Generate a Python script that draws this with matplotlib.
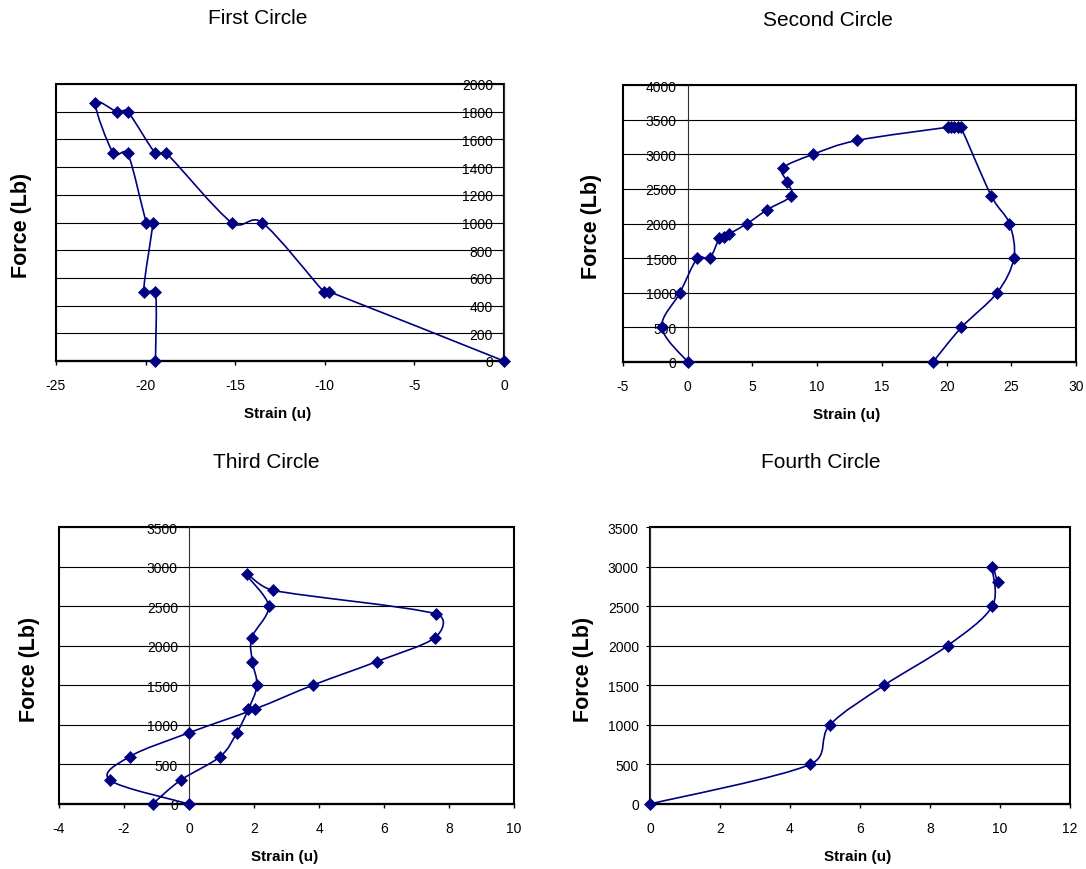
import numpy as np
import matplotlib
matplotlib.use("Agg")
import matplotlib.pyplot as plt
from matplotlib.path import Path
from matplotlib.patches import PathPatch, Rectangle

plt.rcParams["font.family"] = ["Liberation Sans", "DejaVu Sans"]
plt.rcParams["axes.unicode_minus"] = False

# ----------------------------
# Data (strain in u, force in Lb)
# ----------------------------
first_strain = [-19.45, -19.45, -20.1, -19.6, -19.95, -21.0, -21.8, -22.8, -21.6,
                -21.0, -19.45, -18.85, -15.2, -13.5, -10.05, -9.75, 0.0]
first_force = [0, 500, 500, 1000, 1000, 1500, 1500, 1860, 1800,
               1800, 1500, 1500, 1000, 1000, 500, 500, 0]

second_strain = [0.0, -2.0, -0.6, 0.75, 1.7, 2.45, 2.8, 3.2, 4.6, 6.15, 8.0, 7.7, 7.35,
                 9.7, 13.1, 20.1, 20.35, 20.6, 20.85, 21.1, 23.45, 24.85, 25.2, 23.9,
                 21.15, 18.95]
second_force = [0, 500, 1000, 1500, 1500, 1790, 1800, 1850, 2000, 2200, 2400, 2600, 2800,
                3000, 3200, 3390, 3390, 3390, 3390, 3390, 2400, 2000, 1500, 1000,
                500, 0]

third_strain = [-1.12, -0.26, 0.96, 1.47, 1.83, 2.09, 1.95, 1.93, 2.45, 1.78, 2.59,
                7.61, 7.56, 5.78, 3.80, 2.03, 0.0, -1.82, -2.43, 0.0]
third_force = [0, 300, 600, 900, 1200, 1500, 1800, 2100, 2500, 2900, 2700,
               2400, 2100, 1800, 1500, 1200, 900, 600, 300, 0]

fourth_strain = [0.0, 4.57, 5.14, 6.69, 8.50, 9.78, 9.77, 9.93]
fourth_force = [0, 500, 1000, 1500, 2000, 2500, 3000, 2800]

titles = ["First Circle", "Second Circle", "Third Circle", "Fourth Circle"]

NAVY = "#000080"
W, H = 1086, 870


def px_rect(x0, y0, x1, y1):
    return [x0 / W, 1 - y1 / H, (x1 - x0) / W, (y1 - y0) / H]


def smooth_path(xs, ys, sx, sy):
    # Excel-style smoothed line: Bezier segments, control arms capped at
    # half the segment length (worked out in pixel space, then scaled back)
    pts = np.column_stack([xs, ys]).astype(float) * [sx, sy]
    n = len(pts)
    verts = [pts[0]]
    codes = [Path.MOVETO]
    for i in range(n - 1):
        p0 = pts[max(i - 1, 0)]
        p1 = pts[i]
        p2 = pts[i + 1]
        p3 = pts[min(i + 2, n - 1)]
        d12 = np.hypot(*(p2 - p1))
        d02 = np.hypot(*(p2 - p0))
        d13 = np.hypot(*(p3 - p1))
        f1 = 1 / 6 if d02 / 6 < d12 / 2 else (d12 / 2 / d02 if d02 > 0 else 0)
        f2 = 1 / 6 if d13 / 6 < d12 / 2 else (d12 / 2 / d13 if d13 > 0 else 0)
        verts += [p1 + (p2 - p0) * f1, p2 - (p3 - p1) * f2, p2]
        codes += [Path.CURVE4] * 3
    verts = np.array(verts) / [sx, sy]
    return Path(verts, codes)


def draw_panel(rect, xs, ys, xlim, xstep, ylim, ystep):
    ax = fig.add_axes(px_rect(*rect))
    ax.set_xlim(xlim)
    ax.set_ylim(ylim)
    ax.set_xticks(np.arange(xlim[0], xlim[1] + xstep / 2, xstep))
    ax.set_yticks(np.arange(ylim[0], ylim[1] + ystep / 2, ystep))
    ax.yaxis.grid(True, color="black", linewidth=0.8)
    ax.set_axisbelow(True)

    ax.spines["left"].set_position(("data", 0))
    ax.spines["left"].set_linewidth(0.8)
    ax.spines["left"].set_color("#303030")
    ax.spines["top"].set_visible(False)
    ax.spines["right"].set_visible(False)
    ax.spines["bottom"].set_linewidth(1.6)
    ax.add_patch(Rectangle((0, 0), 1, 1, transform=ax.transAxes, fill=False,
                           linewidth=1.5, edgecolor="black", clip_on=False, zorder=2))

    ax.tick_params(axis="x", direction="out", length=3, width=1, pad=9, labelsize=10)
    ax.tick_params(axis="y", direction="out", length=3, width=0.8, pad=5, labelsize=10)

    # pixels per data unit, so the smoothing behaves like on screen
    sx = (rect[2] - rect[0]) / (xlim[1] - xlim[0])
    sy = (rect[3] - rect[1]) / (ylim[1] - ylim[0])
    ax.add_patch(PathPatch(smooth_path(xs, ys, sx, sy), fill=False, edgecolor=NAVY,
                           linewidth=1.2, clip_on=False, zorder=3))
    ax.plot(xs, ys, linestyle="none", marker="D", markersize=6.2, color=NAVY,
            markeredgewidth=0.5, clip_on=False, zorder=4)
    return ax


fig = plt.figure(figsize=(W / 100, H / 100), dpi=100)

draw_panel((56, 85, 504, 362), first_strain, first_force, (-25, 0), 5, (0, 2000), 200)
draw_panel((623, 86, 1076, 363), second_strain, second_force, (-5, 30), 5, (0, 4000), 500)
draw_panel((59, 528, 514, 805), third_strain, third_force, (-4, 10), 2, (0, 3500), 500)
draw_panel((650, 528, 1070, 805), fourth_strain, fourth_force, (0, 12), 2, (0, 3500), 500)

# titles and axis labels (positions in pixels)
title_pos = [(258, 19), (828, 20), (266, 463), (821, 463)]
ylabel_pos = [(22, 225), (592, 226), (30, 669), (584, 669)]
xlabel_pos = [(278, 414), (847, 415), (285, 857), (858, 857)]

for t, (x, y) in zip(titles, title_pos):
    fig.text(x / W, 1 - y / H, t, ha="center", va="center", fontsize=15)
for x, y in ylabel_pos:
    fig.text(x / W, 1 - y / H, "Force (Lb)", rotation=90, ha="center", va="center",
             fontsize=15.5, fontweight="bold")
for x, y in xlabel_pos:
    fig.text(x / W, 1 - y / H, "Strain (u)", ha="center", va="center",
             fontsize=11, fontweight="bold")

fig.savefig("out.png", dpi=100)
